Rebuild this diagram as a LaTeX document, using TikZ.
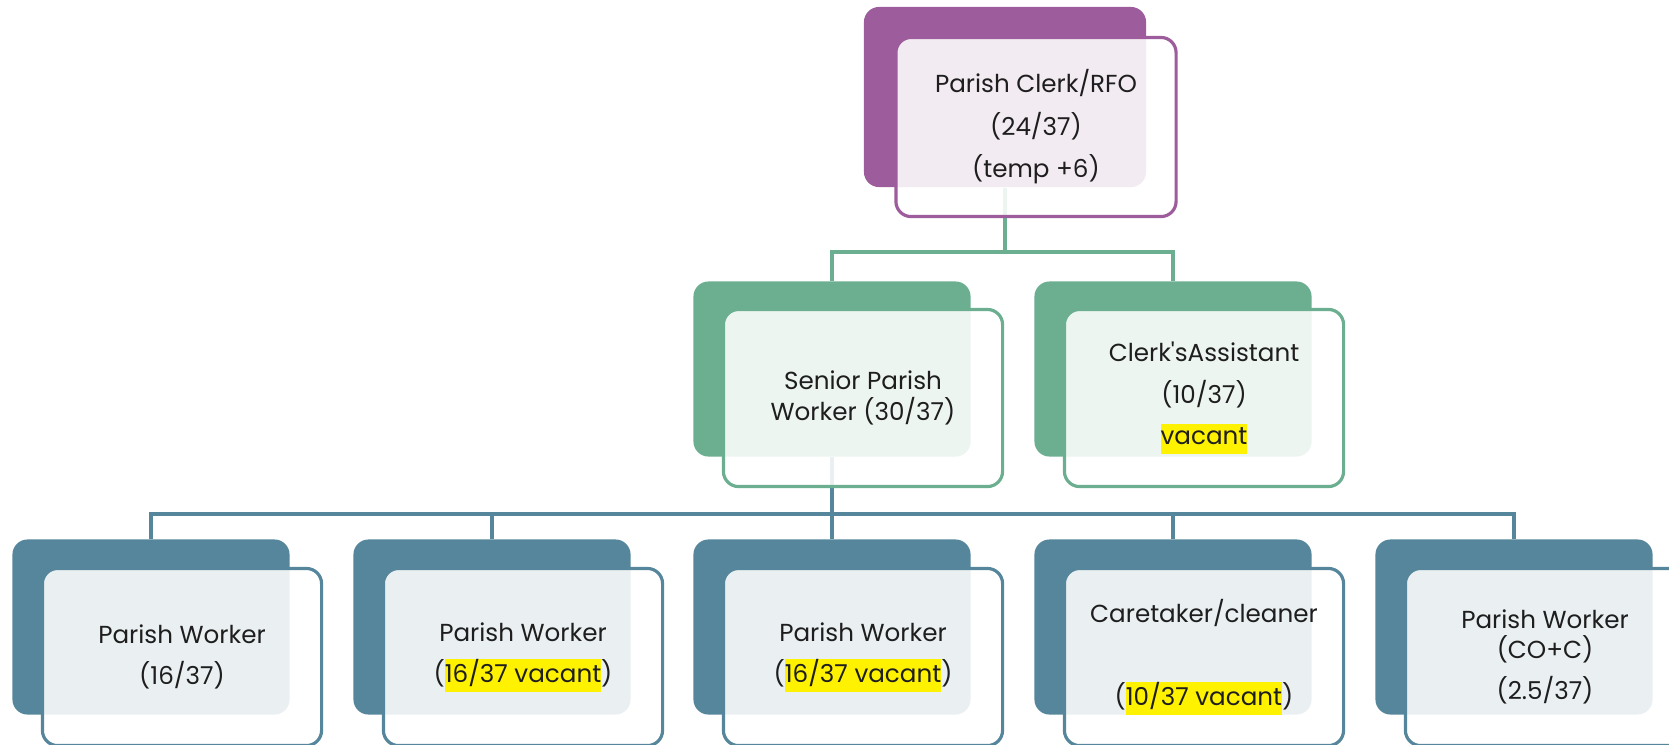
\documentclass[tikz,border=0pt]{standalone}
\usepackage{fontspec}
\setmainfont{Poppins}
\usetikzlibrary{positioning}
\definecolor{plum}{HTML}{9D5C9B}
\definecolor{sage}{HTML}{6BAE90}
\definecolor{slate}{HTML}{55869B}
\definecolor{ink}{HTML}{1E1E1E}
\newcommand{\hlt}[1]{{\setlength{\fboxsep}{0pt}\colorbox{yellow}{\strut #1}}}
\tikzset{
  backbox/.style={rounded corners=4.3pt,inner sep=0pt,minimum width=2.77cm,
    minimum height=1.75cm,fill=#1},
  frontbox/.style={rounded corners=4.3pt,inner sep=0pt,minimum width=2.79cm,
    minimum height=1.77cm,draw=#1,line width=0.9pt,fill=white,fill opacity=0.88,
    text opacity=1,text=ink,align=center,font=\fontsize{7pt}{8.6pt}\selectfont},
  link/.style={draw=#1,line width=0.9pt}
}

\begin{document}
\begin{tikzpicture}[x=0.01cm,y=-0.01cm]
  \useasboundingbox (0,0) rectangle (1669,744);
  \clip (0,0) rectangle (1669,744);
  % back plates
  \node[backbox=plum,minimum width=2.82cm,minimum height=1.8cm] (rfoB) at (1005,97) {};
  \node[backbox=sage] (spwB) at (832,369) {};
  \node[backbox=sage] (caB) at (1173,369) {};
  \node[backbox=slate] (pwaB) at (151,627) {};
  \node[backbox=slate] (pwbB) at (492,627) {};
  \node[backbox=slate] (pwcB) at (832,627) {};
  \node[backbox=slate] (careB) at (1173,627) {};
  \node[backbox=slate] (pwcoB) at (1514,627) {};
  % connectors
  \coordinate (upbus) at (0,252);
  \coordinate (lowbus) at (0,514);
  \draw[link=sage] (rfoB.south) -- (rfoB.south |- upbus);
  \draw[link=sage] (spwB.north) |- (caB.north |- upbus) -- (caB.north);
  \draw[link=slate] (spwB.south) -- (pwcB.north);
  \draw[link=slate] (pwaB.north) |- (pwcoB.north |- lowbus) -- (pwcoB.north);
  \draw[link=slate] (pwbB.north) -- (pwbB.north |- lowbus);
  \draw[link=slate] (careB.north) -- (careB.north |- lowbus);
  % front cards
  \node[frontbox=plum,minimum width=2.8cm,minimum height=1.79cm] (rfo) at ([shift={(31,30)}]rfoB.center)
    {Parish Clerk/RFO\\[3.5pt](24/37)\\[3.5pt](temp +6)};
  \node[frontbox=sage] (spw) at ([shift={(31,29)}]spwB.center)
    {Senior Parish\\Worker (30/37)};
  \node[frontbox=sage] (ca) at ([shift={(31,29)}]caB.center)
    {Clerk\textquotesingle sAssistant\\[3.2pt](10/37)\\[3.2pt]\hlt{vacant}};
  \node[frontbox=slate] (pwa) at ([shift={(31,30)}]pwaB.center)
    {Parish Worker\\[3.2pt](16/37)};
  \node[frontbox=slate] (pwb) at ([shift={(31,30)}]pwbB.center)
    {Parish Worker\\[3.2pt](\hlt{16/37 vacant})};
  \node[frontbox=slate] (pwc) at ([shift={(31,30)}]pwcB.center)
    {Parish Worker\\[3.2pt](\hlt{16/37 vacant})};
  \node[frontbox=slate] (care) at ([shift={(31,30)}]careB.center)
    {Caretaker/cleaner\\[3.2pt]\mbox{}\\[3.2pt](\hlt{10/37 vacant})};
  \node[frontbox=slate] (pwco) at ([shift={(31,30)}]pwcoB.center)
    {Parish Worker\\(CO+C)\\[3.2pt](2.5/37)};
\end{tikzpicture}
\end{document}
